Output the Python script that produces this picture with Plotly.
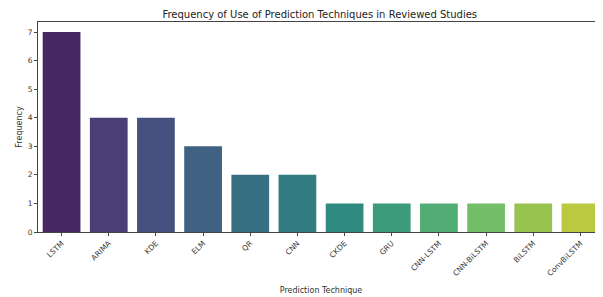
import colorsys
import plotly.graph_objects as go
from plotly.colors import sample_colorscale, unlabel_rgb

techniques = ["LSTM", "ARIMA", "KDE", "ELM", "QR", "CNN", "CKDE", "GRU",
              "CNN-LSTM", "CNN-BiLSTM", "BiLSTM", "ConvBiLSTM"]
frequency = [7, 4, 4, 3, 2, 2, 1, 1, 1, 1, 1, 1]
y_ticks = [0, 1, 2, 3, 4, 5, 6, 7]

n = len(techniques)
base = sample_colorscale("Viridis", [(i + 1) / (n + 1) for i in range(n)])


def desaturate(rgb_str, prop=0.75):
    r, g, b = [v / 255 for v in unlabel_rgb(rgb_str)]
    h, l, s = colorsys.rgb_to_hls(r, g, b)
    r, g, b = colorsys.hls_to_rgb(h, l, s * prop)
    return f"rgb({round(r*255)},{round(g*255)},{round(b*255)})"


colors = [desaturate(c) for c in base]

fig = go.Figure(go.Bar(
    x=techniques, y=frequency, marker_color=colors,
    marker_line_width=0, width=0.8,
))

font = "DejaVu Sans"
fig.update_layout(
    width=603, height=297,
    margin=dict(l=30, r=7, t=14, b=73),
    plot_bgcolor="white", paper_bgcolor="white",
    showlegend=False,
    bargap=0.2,
    title=dict(text="Frequency of Use of Prediction Techniques in Reviewed Studies",
               x=0.517, xanchor="center", y=0.978, yanchor="middle",
               font=dict(family=font, size=10, color="#222")),
    font=dict(family=font, size=7, color="#333"),
)
fig.update_xaxes(
    range=[-0.5, n - 0.5], tickangle=-45, automargin=False,
    showline=True, linecolor="#444", linewidth=1, mirror=True,
    ticks="outside", ticklen=3, tickcolor="#444",
    tickfont=dict(size=7.5, family=font, color="#333"),
    title=dict(text="Prediction Technique", font=dict(size=8, family=font, color="#333"), standoff=10),
)
fig.update_yaxes(
    range=[0, 7.35], tickvals=y_ticks, showgrid=False, zeroline=False, automargin=False,
    showline=True, linecolor="#444", linewidth=1, mirror=True,
    ticks="outside", ticklen=3, tickcolor="#444",
    tickfont=dict(size=7.5, family=font, color="#333"),
    title=dict(text="Frequency", font=dict(size=8, family=font, color="#333"), standoff=3),
)

fig.write_html("out.html")
